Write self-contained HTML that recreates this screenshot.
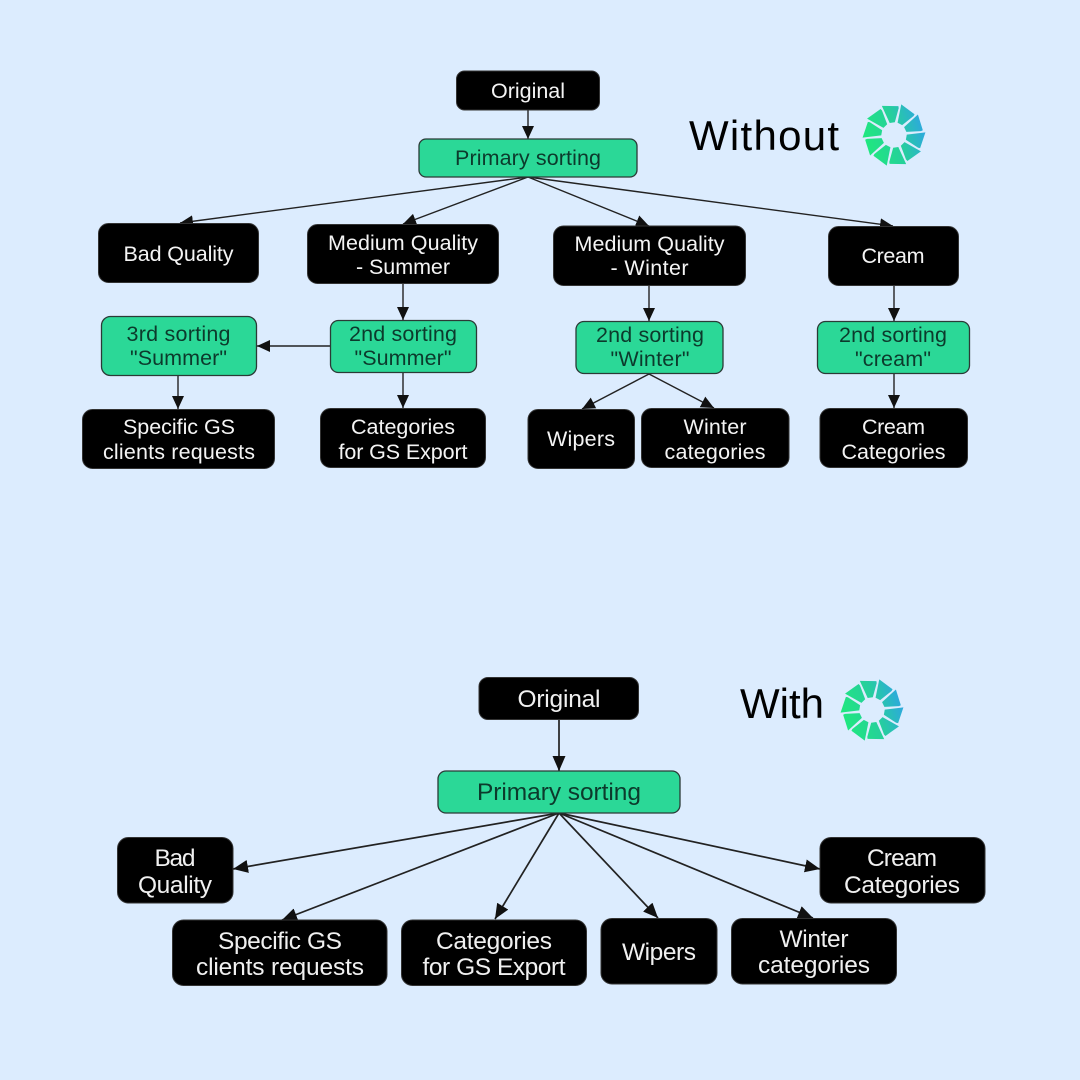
<!DOCTYPE html>
<html><head><meta charset="utf-8"><style>
html,body{margin:0;padding:0;background:#dcecfe;width:1080px;height:1080px;overflow:hidden}
svg{display:block}
text{font-family:"Liberation Sans",sans-serif;text-anchor:middle}
.k rect,rect.k{fill:#000;stroke:#333;stroke-width:1}
rect.g{fill:#2bd897;stroke:#2b3a36;stroke-width:1.3}
.w{fill:#f4f4f4;font-size:21.500px}
.d{fill:#0c3a2c;font-size:21.500px}
.W{fill:#f0f0f0;font-size:24.500px}
.D{fill:#0c3a2c;font-size:24.500px}
.l{stroke:#222;stroke-width:1.4;fill:none;marker-end:url(#a)}
.L{stroke:#222;stroke-width:1.7;fill:none;marker-end:url(#b)}
.h{fill:#000;font-size:42px}
</style></head><body>
<svg width="1080" height="1080" viewBox="0 0 1080 1080" xmlns="http://www.w3.org/2000/svg">
<defs>
<marker id="a" markerUnits="userSpaceOnUse" markerWidth="14" markerHeight="12" refX="13" refY="6" orient="auto"><path d="M0 0L13 6L0 12Z" fill="#111"/></marker>
<marker id="b" markerUnits="userSpaceOnUse" markerWidth="16" markerHeight="14" refX="15" refY="6.5" orient="auto"><path d="M0 0L15 6.5L0 13Z" fill="#111"/></marker>
<linearGradient id="lg1" gradientUnits="userSpaceOnUse" x1="863" y1="145" x2="925" y2="125"><stop offset="0" stop-color="#1fea7c"/><stop offset=".55" stop-color="#26cf9c"/><stop offset="1" stop-color="#2ea6e2"/></linearGradient>
<linearGradient id="lg2" gradientUnits="userSpaceOnUse" x1="841" y1="720" x2="903" y2="700"><stop offset="0" stop-color="#1fea7c"/><stop offset=".55" stop-color="#26cf9c"/><stop offset="1" stop-color="#2ea6e2"/></linearGradient>
<polygon id="wd" points="-2.600,-12.500 2.600,-12.500 8.400,-26 8.400,-28 -8,-30.500" fill="#fff"/>
<g id="wheel">
<use href="#wd" transform="rotate(0)"/><use href="#wd" transform="rotate(36)"/><use href="#wd" transform="rotate(72)"/><use href="#wd" transform="rotate(108)"/><use href="#wd" transform="rotate(144)"/><use href="#wd" transform="rotate(180)"/><use href="#wd" transform="rotate(216)"/><use href="#wd" transform="rotate(252)"/><use href="#wd" transform="rotate(288)"/><use href="#wd" transform="rotate(324)"/>
</g>
<mask id="m1" maskUnits="userSpaceOnUse" x="850" y="90" width="90" height="90"><use href="#wheel" transform="translate(894 135) rotate(-8)"/></mask>
<mask id="m2" maskUnits="userSpaceOnUse" x="830" y="665" width="90" height="90"><use href="#wheel" transform="translate(872 710) rotate(-8)"/></mask>
</defs>
<rect width="1080" height="1080" fill="#dcecfe"/>

<!-- top connectors -->
<line class="l" x1="528" y1="110" x2="528" y2="139"/>
<line class="l" x1="528" y1="177" x2="180" y2="223"/>
<line class="l" x1="528" y1="177" x2="403" y2="224"/>
<line class="l" x1="528" y1="177" x2="649" y2="226"/>
<line class="l" x1="528" y1="177" x2="893" y2="226"/>
<line class="l" x1="403" y1="284" x2="403" y2="320"/>
<line class="l" x1="649" y1="286" x2="649" y2="321"/>
<line class="l" x1="894" y1="286" x2="894" y2="321"/>
<line class="l" x1="330" y1="346" x2="257" y2="346"/>
<line class="l" x1="178" y1="376" x2="178" y2="409"/>
<line class="l" x1="403" y1="373" x2="403" y2="408"/>
<line class="l" x1="649" y1="374" x2="582" y2="409"/>
<line class="l" x1="649" y1="374" x2="714" y2="408"/>
<line class="l" x1="894" y1="374" x2="894" y2="408"/>

<!-- top nodes -->
<rect class="k" x="456.5" y="71" width="143" height="39" rx="8"/>
<text class="w" x="528" y="98" textLength="74">Original</text>
<rect class="g" x="419" y="139" width="218" height="38" rx="7"/>
<text class="d" x="528" y="165" textLength="146">Primary sorting</text>
<rect class="k" x="98.500" y="223.500" width="160" height="59" rx="10"/>
<text class="w" x="178.500" y="261" textLength="110">Bad Quality</text>
<rect class="k" x="307.500" y="224.500" width="191" height="59" rx="10"/>
<text class="w" x="403" y="250" textLength="150">Medium Quality</text>
<text class="w" x="403" y="274" textLength="94">- Summer</text>
<rect class="k" x="553.500" y="226" width="192" height="59.500" rx="10"/>
<text class="w" x="649.500" y="251" textLength="150">Medium Quality</text>
<text class="w" x="649.500" y="275" textLength="78">- Winter</text>
<rect class="k" x="828.500" y="226.500" width="130" height="59" rx="10"/>
<text class="w" x="893" y="263" textLength="63">Cream</text>
<rect class="g" x="101.500" y="316.500" width="155" height="59" rx="9"/>
<text class="d" x="178.500" y="341" textLength="104">3rd sorting</text>
<text class="d" x="178.500" y="365" textLength="97">"Summer"</text>
<rect class="g" x="330.500" y="320.500" width="146" height="52" rx="8"/>
<text class="d" x="403" y="341" textLength="108">2nd sorting</text>
<text class="d" x="403" y="365" textLength="97">"Summer"</text>
<rect class="g" x="576" y="321.500" width="147" height="52" rx="8"/>
<text class="d" x="650" y="342" textLength="108">2nd sorting</text>
<text class="d" x="650" y="366" textLength="79">"Winter"</text>
<rect class="g" x="817.500" y="321.500" width="152" height="52" rx="8"/>
<text class="d" x="893" y="342" textLength="108">2nd sorting</text>
<text class="d" x="893" y="366" textLength="76">"cream"</text>
<rect class="k" x="82.500" y="409.500" width="192" height="59" rx="10"/>
<text class="w" x="179" y="434" textLength="112">Specific GS</text>
<text class="w" x="179" y="459" textLength="152">clients requests</text>
<rect class="k" x="320.500" y="408.500" width="165" height="59" rx="10"/>
<text class="w" x="403" y="434" textLength="104">Categories</text>
<text class="w" x="403" y="459" textLength="129">for GS Export</text>
<rect class="k" x="528" y="409.500" width="106.500" height="59" rx="10"/>
<text class="w" x="581" y="446" textLength="68">Wipers</text>
<rect class="k" x="641.500" y="408.500" width="147.500" height="59" rx="10"/>
<text class="w" x="715" y="434" textLength="63">Winter</text>
<text class="w" x="715" y="459" textLength="101">categories</text>
<rect class="k" x="820" y="408.500" width="147.500" height="59" rx="10"/>
<text class="w" x="893.500" y="434" textLength="63">Cream</text>
<text class="w" x="893.500" y="459" textLength="104">Categories</text>

<text class="h" x="764" y="150" textLength="150">Without</text>
<rect x="850" y="90" width="90" height="90" fill="url(#lg1)" mask="url(#m1)"/>

<!-- bottom connectors -->
<line class="L" x1="559" y1="720" x2="559" y2="771"/>
<line class="L" x1="559" y1="813" x2="233" y2="869"/>
<line class="L" x1="559" y1="813" x2="282" y2="920"/>
<line class="L" x1="559" y1="813" x2="495" y2="919"/>
<line class="L" x1="559" y1="813" x2="658" y2="918"/>
<line class="L" x1="559" y1="813" x2="813" y2="918"/>
<line class="L" x1="559" y1="813" x2="820" y2="869"/>

<!-- bottom nodes -->
<rect class="k" x="479" y="677.500" width="159.500" height="42" rx="9"/>
<text class="W" x="559" y="707" textLength="83">Original</text>
<rect class="g" x="438" y="771" width="242" height="42" rx="8"/>
<text class="D" x="559" y="800" textLength="164">Primary sorting</text>
<rect class="k" x="117.500" y="837.500" width="115.500" height="65.500" rx="11"/>
<text class="W" x="175" y="866" textLength="41">Bad</text>
<text class="W" x="175" y="893" textLength="74">Quality</text>
<rect class="k" x="820" y="837.500" width="165" height="65.500" rx="11"/>
<text class="W" x="902" y="866" textLength="70">Cream</text>
<text class="W" x="902" y="893" textLength="116">Categories</text>
<rect class="k" x="172.500" y="920" width="214.500" height="65.500" rx="11"/>
<text class="W" x="280" y="949" textLength="124">Specific GS</text>
<text class="W" x="280" y="975" textLength="168">clients requests</text>
<rect class="k" x="401.500" y="920" width="185" height="65.500" rx="11"/>
<text class="W" x="494" y="949" textLength="116">Categories</text>
<text class="W" x="494" y="975" textLength="143">for GS Export</text>
<rect class="k" x="601" y="918.500" width="116" height="65.500" rx="11"/>
<text class="W" x="659" y="960" textLength="74">Wipers</text>
<rect class="k" x="731.500" y="918.500" width="165" height="65.500" rx="11"/>
<text class="W" x="814" y="947" textLength="69">Winter</text>
<text class="W" x="814" y="973" textLength="112">categories</text>

<text class="h" x="782" y="718" textLength="84">With</text>
<rect x="830" y="665" width="90" height="90" fill="url(#lg2)" mask="url(#m2)"/>
</svg>
</body></html>
